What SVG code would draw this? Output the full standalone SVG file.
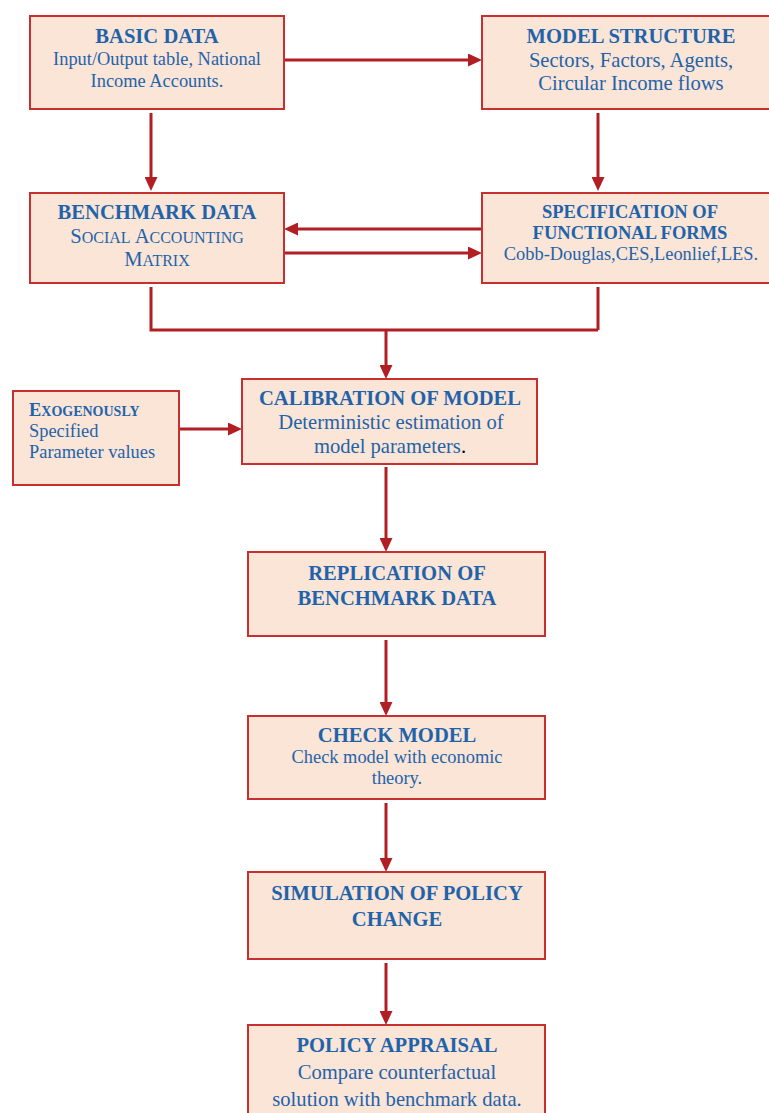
<svg xmlns="http://www.w3.org/2000/svg" width="769" height="1113" viewBox="0 0 769 1113">
  <style>
    .box { fill: #fae5d7; stroke: #c7302e; stroke-width: 2; }
    .t { font-family: "Liberation Serif", "Times New Roman", serif; fill: #1f63aa; text-anchor: middle; }
    .h { font-size: 20.6px; font-weight: bold; }
    .hs { font-size: 18.5px; font-weight: bold; }
    .b { font-size: 18.4px; }
    .bl { font-size: 20.6px; }
    .left { text-anchor: start; }
    .wire { fill: none; stroke: #b11f24; stroke-width: 3; }
  </style>
  <defs>
    <!-- arrowhead: tip sits 10 units beyond the line end -->
    <marker id="ah" markerUnits="userSpaceOnUse" markerWidth="14" markerHeight="13" viewBox="0 0 14 13" refX="4" refY="6.5" orient="auto">
      <path d="M0,0 L14,6.5 L0,13 z" fill="#b11f24"/>
    </marker>
  </defs>

  <rect width="769" height="1113" fill="#ffffff"/>

  <g id="connectors">
    <line class="wire" x1="284" y1="60" x2="472" y2="60" marker-end="url(#ah)"/>
    <line class="wire" x1="151" y1="113" x2="151" y2="181" marker-end="url(#ah)"/>
    <line class="wire" x1="598" y1="113" x2="598" y2="181" marker-end="url(#ah)"/>
    <line class="wire" x1="482" y1="229" x2="294" y2="229" marker-end="url(#ah)"/>
    <line class="wire" x1="284" y1="253" x2="472" y2="253" marker-end="url(#ah)"/>
    <path class="wire" d="M151,287 V330 H598 M598,287 V330"/>
    <line class="wire" x1="386" y1="330" x2="386" y2="369" marker-end="url(#ah)"/>
    <line class="wire" x1="179" y1="429" x2="232" y2="429" marker-end="url(#ah)"/>
    <line class="wire" x1="386" y1="467" x2="386" y2="542" marker-end="url(#ah)"/>
    <line class="wire" x1="386" y1="640" x2="386" y2="706" marker-end="url(#ah)"/>
    <line class="wire" x1="386" y1="803" x2="386" y2="862" marker-end="url(#ah)"/>
    <line class="wire" x1="386" y1="963" x2="386" y2="1015" marker-end="url(#ah)"/>
  </g>

  <g id="basic-data">
    <rect class="box" x="30" y="16" width="254" height="93"/>
    <text class="t h" x="157" y="43">BASIC DATA</text>
    <text class="t b" x="157" y="65">Input/Output table, National</text>
    <text class="t b" x="157" y="87">Income Accounts.</text>
  </g>

  <g id="model-structure">
    <rect class="box" x="482" y="16" width="300" height="93"/>
    <text class="t h" x="631" y="43">MODEL STRUCTURE</text>
    <text class="t bl" x="631" y="67">Sectors, Factors, Agents,</text>
    <text class="t bl" x="631" y="90">Circular Income flows</text>
  </g>

  <g id="benchmark-data">
    <rect class="box" x="30" y="193" width="254" height="90"/>
    <text class="t h" x="157" y="219">BENCHMARK DATA</text>
    <text class="t bl" x="157" y="243"><tspan>S</tspan><tspan font-size="16">OCIAL</tspan> <tspan>A</tspan><tspan font-size="16">CCOUNTING</tspan></text>
    <text class="t bl" x="157" y="266"><tspan>M</tspan><tspan font-size="16">ATRIX</tspan></text>
  </g>

  <g id="functional-forms">
    <rect class="box" x="482" y="193" width="300" height="90"/>
    <text class="t hs" x="630" y="218">SPECIFICATION OF</text>
    <text class="t hs" x="630" y="239">FUNCTIONAL FORMS</text>
    <text class="t b" x="631" y="260">Cobb-Douglas,CES,Leonlief,LES.</text>
  </g>

  <g id="exogenous-parameters">
    <rect class="box" x="13" y="391" width="166" height="94"/>
    <text class="t b left" x="29" y="416" font-weight="bold"><tspan>E</tspan><tspan font-size="14">XOGENOUSLY</tspan></text>
    <text class="t b left" x="29" y="437">Specified</text>
    <text class="t b left" x="29" y="458">Parameter values</text>
  </g>

  <g id="calibration">
    <rect class="box" x="242" y="379" width="295" height="85"/>
    <text class="t h" x="390" y="405">CALIBRATION OF MODEL</text>
    <text class="t bl" x="391" y="429">Deterministic estimation of</text>
    <text class="t bl" x="390" y="453">model parameters<tspan fill="#000000">.</tspan></text>
  </g>

  <g id="replication">
    <rect class="box" x="248" y="552" width="297" height="84"/>
    <text class="t h" x="397" y="580">REPLICATION OF</text>
    <text class="t h" x="397" y="605">BENCHMARK DATA</text>
  </g>

  <g id="check-model">
    <rect class="box" x="248" y="716" width="297" height="83"/>
    <text class="t h" x="397" y="742">CHECK MODEL</text>
    <text class="t b" x="397" y="763">Check model with economic</text>
    <text class="t b" x="397" y="784">theory.</text>
  </g>

  <g id="simulation">
    <rect class="box" x="248" y="872" width="297" height="87"/>
    <text class="t h" x="397" y="900">SIMULATION OF POLICY</text>
    <text class="t h" x="397" y="926">CHANGE</text>
  </g>

  <g id="policy-appraisal">
    <rect class="box" x="248" y="1025" width="297" height="100"/>
    <text class="t h" x="397" y="1052">POLICY APPRAISAL</text>
    <text class="t bl" x="397" y="1079">Compare counterfactual</text>
    <text class="t bl" x="397" y="1106">solution with benchmark data.</text>
  </g>
</svg>
